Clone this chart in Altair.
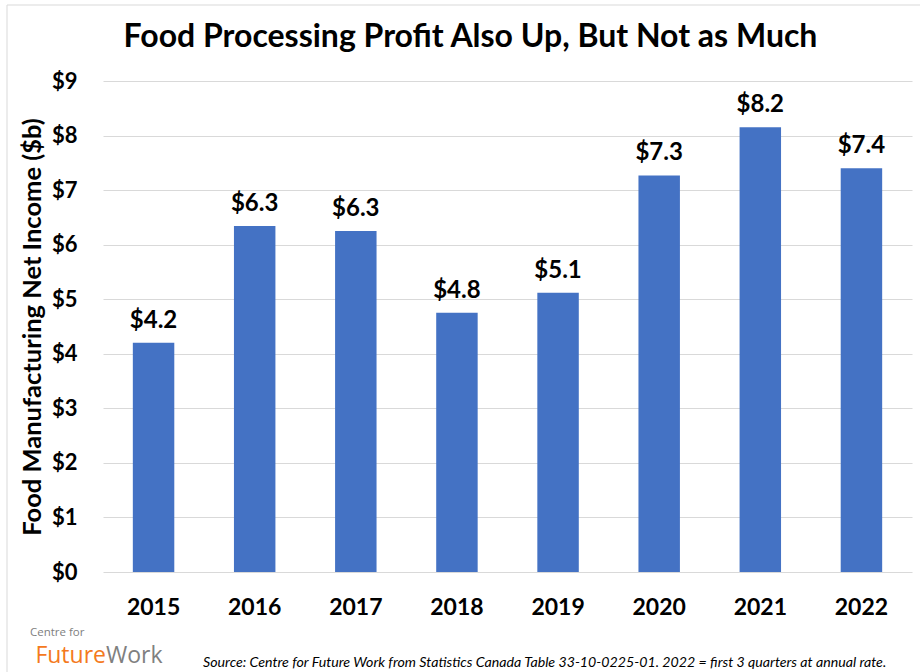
import altair as alt
import pandas as pd

years = ["2015", "2016", "2017", "2018", "2019", "2020", "2021", "2022"]
income = [4.20, 6.34, 6.25, 4.75, 5.12, 7.27, 8.15, 7.40]
labels = ["$4.2", "$6.3", "$6.3", "$4.8", "$5.1", "$7.3", "$8.2", "$7.4"]
y_ticks = [0, 1, 2, 3, 4, 5, 6, 7, 8, 9]

title_text = "Food Processing Profit Also Up, But Not as Much"
y_title = "Food Manufacturing Net Income ($b)"
source_text = ["Source: Centre for Future Work from Statistics Canada Table 33-10-0225-01. 2022 = first 3 quarters at annual rate."]
logo_small = ["Centre for"]
logo_a = ["Future"]
logo_b = ["Work"]

df = pd.DataFrame({"year": years, "income": income, "label": labels})

W, H = 809, 491
FONT = "Lato"
OX, OY = 103, 81  # plot origin inside the page

x = alt.X(
    "year:N", sort=years, title=None,
    scale=alt.Scale(paddingInner=0.59, paddingOuter=0.295),
    axis=alt.Axis(labelFont=FONT, labelFontSize=23, labelFontWeight="bold",
                  labelColor="black", labelAngle=0, labelPadding=24,
                  ticks=False, domain=False),
)
y = alt.Y(
    "income:Q", title=y_title,
    scale=alt.Scale(domain=[0, 9], nice=False),
    axis=alt.Axis(values=y_ticks, labelExpr="'$' + datum.value",
                  labelFont=FONT, labelFontSize=22, labelFontWeight="bold",
                  labelColor="black", labelPadding=26, ticks=False, domain=False,
                  gridColor="#d9d9d9", gridWidth=1,
                  titleFont=FONT, titleFontSize=25.5, titleFontWeight="bold",
                  titleColor="black", titlePadding=6),
)

base = alt.Chart(df)
bars = base.mark_bar(color="#4472C4").encode(x=x, y=y)
text = base.mark_text(font=FONT, fontSize=24, fontWeight="bold", baseline="bottom",
                      dy=-10, color="black").encode(x=x, y=y, text="label:N")

src = alt.Chart(pd.DataFrame({"t": source_text})).mark_text(
    font=FONT, fontSize=14.2, fontStyle="italic", align="left",
    baseline="alphabetic", color="black"
).encode(x=alt.value(203 - OX), y=alt.value(667 - OY), text="t:N")

logo1 = alt.Chart(pd.DataFrame({"t": logo_small})).mark_text(
    font="Open Sans", fontSize=11.5, align="left", baseline="alphabetic", color="#808080"
).encode(x=alt.value(30 - OX), y=alt.value(636 - OY), text="t:N")

logo2 = alt.Chart(pd.DataFrame({"t": logo_a})).mark_text(
    font="Open Sans", fontSize=23, align="right", baseline="alphabetic", color="#F47920"
).encode(x=alt.value(106 - OX), y=alt.value(663 - OY), text="t:N")

logo3 = alt.Chart(pd.DataFrame({"t": logo_b})).mark_text(
    font="Open Sans", fontSize=23, align="left", baseline="alphabetic", color="#808080"
).encode(x=alt.value(106 - OX), y=alt.value(663 - OY), text="t:N")

border_df = pd.DataFrame({"b": [0]})
border_left = alt.Chart(border_df).mark_rule(color="#d9d9d9", strokeWidth=1).encode(
    x=alt.value(7 - OX), y=alt.value(5 - OY), y2=alt.value(672 - OY)
)
border_top = alt.Chart(border_df).mark_rule(color="#d9d9d9", strokeWidth=1).encode(
    x=alt.value(7 - OX), x2=alt.value(920 - OX), y=alt.value(5 - OY)
)

chart = alt.layer(bars, text, src, logo1, logo2, logo3, border_left, border_top).properties(
    width=W, height=H,
    padding={"left": OX, "top": OY, "right": 920 - OX - W, "bottom": 672 - OY - H},
    autosize=alt.AutoSizeParams(type="none"),
    background="white",
    title=alt.TitleParams(title_text, font=FONT, fontSize=32, fontWeight="bold",
                          color="black", anchor="middle", dx=-37, offset=-49),
).configure_view(stroke=None)

chart.save("out.html", embed_options={"renderer": "svg", "actions": False})
